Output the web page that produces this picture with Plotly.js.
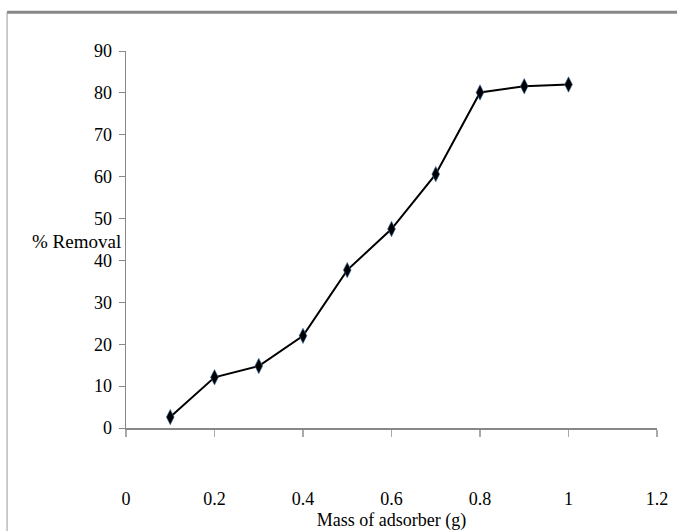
<!DOCTYPE html>
<html><head><meta charset="utf-8">
<script src="https://cdn.plot.ly/plotly-3.0.1.min.js"></script>
<style>body{margin:0;background:#fff}#c{width:677px;height:531px}</style>
</head><body><div id="c"></div>
<script>
const massG = [0.1, 0.2, 0.3, 0.4, 0.5, 0.6, 0.7, 0.8, 0.9, 1.0];
const removalPct = [2.6, 12.1, 14.8, 22.0, 37.7, 47.5, 60.6, 80.1, 81.6, 82.0];
const xTicks = [0, 0.2, 0.4, 0.6, 0.8, 1, 1.2];
const yTicks = [0, 10, 20, 30, 40, 50, 60, 70, 80, 90];

const font = {family: 'Liberation Serif', size: 18, color: '#000'};
Plotly.newPlot('c', [{
  x: massG, y: removalPct, type: 'scatter', mode: 'lines+markers',
  line: {color: '#000', width: 2},
  marker: {symbol: 'diamond-tall', size: 11, color: '#000', line: {color: '#3d6ea8', width: 0.6}},
  showlegend: false
}], {
  width: 677, height: 531,
  margin: {l: 126, r: 20, t: 51, b: 103},
  paper_bgcolor: '#fff', plot_bgcolor: '#fff',
  font: font,
  xaxis: {
    range: [0, 1.2], tickvals: xTicks, ticktext: xTicks.map(String),
    showgrid: false, zeroline: false, showline: true, linecolor: '#888', linewidth: 2,
    ticks: 'outside', ticklen: 7, tickcolor: '#aaa', tickwidth: 1.5,
    ticklabelstandoff: 46, tickfont: font,
    title: {text: 'Mass of adsorber (g)', font: font, standoff: 16}
  },
  yaxis: {
    range: [0, 90], tickvals: yTicks, ticktext: yTicks.map(String),
    showgrid: false, zeroline: false, showline: true, linecolor: '#888', linewidth: 1.5,
    ticks: 'outside', ticklen: 6, tickcolor: '#888', tickwidth: 1,
    ticklabelstandoff: 3, tickfont: font
  },
  annotations: [{
    text: '% Removal', xref: 'paper', yref: 'paper', x: -0.094, y: 0.496,
    xanchor: 'center', yanchor: 'middle', showarrow: false,
    font: {family: 'Liberation Serif', size: 19, color: '#000'}
  }],
  shapes: [
    {type: 'line', xref: 'paper', yref: 'paper', x0: -0.224, x1: 1.05, y0: 1.103, y1: 1.103, line: {color: '#888', width: 3}},
    {type: 'line', xref: 'paper', yref: 'paper', x0: -0.224, x1: -0.224, y0: 1.103, y1: -0.3, line: {color: '#999', width: 1}}
  ]
}, {displayModeBar: false, staticPlot: true});
</script></body></html>
